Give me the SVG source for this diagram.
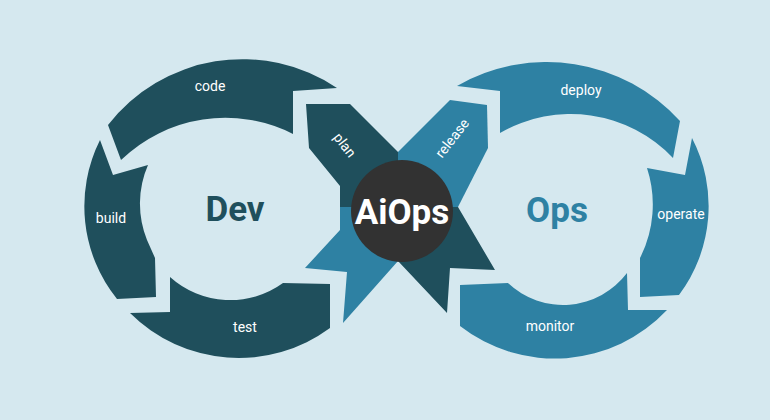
<svg xmlns="http://www.w3.org/2000/svg" width="770" height="420" viewBox="0 0 770 420">
<style>
.dark{fill:#1f4f5c}
.light{fill:#2e81a3}
.lbl{font-family:Roboto,"Noto Sans",sans-serif;font-size:14px;fill:#ffffff;text-anchor:middle}
.big{font-family:Roboto,"Noto Sans",sans-serif;font-weight:bold;font-size:35px;text-anchor:middle}
</style>
<rect x="0" y="0" width="770" height="420" fill="#d5e8ef"/>
<g id="dev-ring">
<g id="code"><path class="dark" d="M108,125 A170,170 0 0 1 337,88 L293,91 L293,134 A150,150 0 0 0 121,160 Z"/><text class="lbl" x="210" y="91">code</text></g>
<g id="build"><path class="dark" d="M100,140 L113,175 L148,165 A97,97 0 0 0 147,240 L155,258 L156,297 L117,299 A148,148 0 0 1 100,140 Z"/><text class="lbl" x="111" y="223">build</text></g>
<g id="test"><path class="dark" d="M130,313 L170,312 L170,277 A90,90 0 0 0 283,283 L330,284 L330,328 A154,154 0 0 1 130,313 Z"/><text class="lbl" x="245" y="332">test</text></g>
</g>
<g id="hub">
<g id="plan"><polygon class="dark" points="306,104 350,104 398,152 398,207 340,207 340,186 309,148"/><text class="lbl" transform="translate(345,145) rotate(52)" x="0" y="5">plan</text></g>
<g id="release"><polygon class="light" points="398,207 398,152 450,100 487,105 488,148 458,207"/><text class="lbl" transform="translate(452,138) rotate(-52)" x="0" y="5">release</text></g>
<g id="dev-to-ops"><polygon class="light" points="398,207 340,207 340,230 305,268 347,272 343,323 398,261"/></g>
<g id="ops-to-dev"><polygon class="dark" points="398,207 458,207 495,270 450,268 447,313 398,261"/></g>
<g id="aiops"><circle cx="402" cy="211" r="51" fill="#323232"/><text class="big" x="402" y="224" fill="#ffffff">AiOps</text></g>
</g>
<g id="ops-ring">
<g id="deploy"><path class="light" d="M457,86 A180,180 0 0 1 680,121 L673,158 A141,141 0 0 0 500,133 L500,91 Z"/><text class="lbl" x="581" y="95">deploy</text></g>
<g id="operate"><path class="light" d="M692,138 L685,175 L647,168 A118,118 0 0 1 640,258 L640,297 L679,295 A148,148 0 0 0 692,138 Z"/><text class="lbl" x="681" y="219">operate</text></g>
<g id="monitor"><path class="light" d="M460,285 L508,283 A80,80 0 0 0 627,273 L628,310 L667,310 A154,154 0 0 1 460,326 Z"/><text class="lbl" x="550" y="331">monitor</text></g>
</g>
<text id="dev" class="big" x="235" y="221" fill="#1f4f5c">Dev</text>
<text id="ops" class="big" x="557" y="222" fill="#2e81a3">Ops</text>
</svg>
